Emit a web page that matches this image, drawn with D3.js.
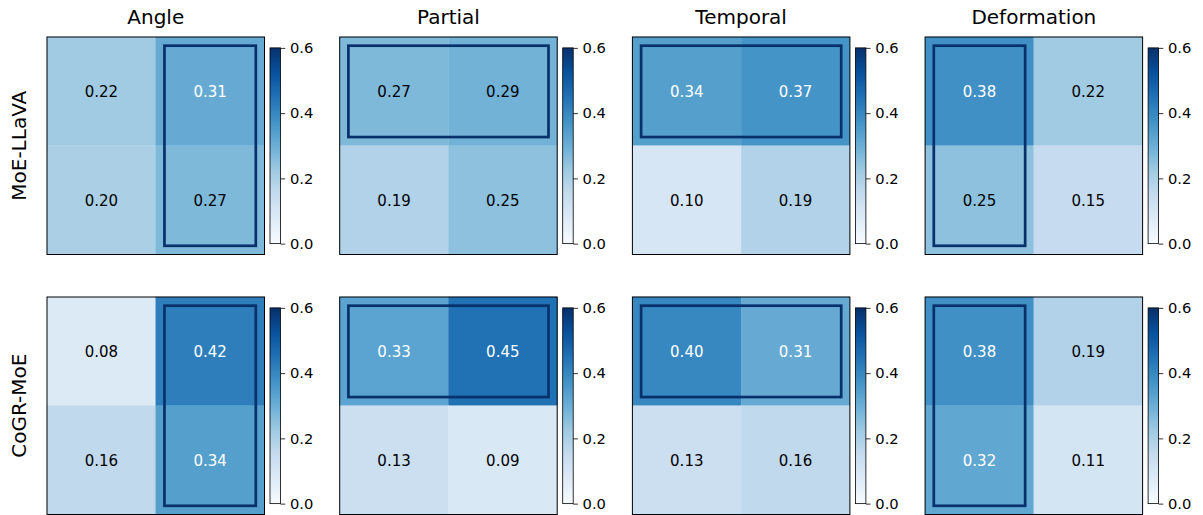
<!DOCTYPE html>
<html>
<head>
<meta charset="utf-8">
<script src="https://cdn.jsdelivr.net/npm/d3@7"></script>
<style>
  html, body { margin: 0; padding: 0; background: #fff; }
  svg { display: block; font-family: "DejaVu Sans", sans-serif; }
</style>
</head>
<body>
<svg id="chart" width="1203" height="515"></svg>
<script>
// ---- data ----
const columns = ["Angle", "Partial", "Temporal", "Deformation"];
const models = ["MoE-LLaVA", "CoGR-MoE"];
// each panel: 2x2 matrix [row][col]
const moeLLaVA = [
  [[0.22, 0.31], [0.20, 0.27]],
  [[0.27, 0.29], [0.19, 0.25]],
  [[0.34, 0.37], [0.10, 0.19]],
  [[0.38, 0.22], [0.25, 0.15]]
];
const cogrMoE = [
  [[0.08, 0.42], [0.16, 0.34]],
  [[0.33, 0.45], [0.13, 0.09]],
  [[0.40, 0.31], [0.13, 0.16]],
  [[0.38, 0.19], [0.32, 0.11]]
];
// highlighted region per column: type and index
const highlightType = ["col", "row", "row", "col"];
const highlightIndex = [1, 0, 0, 0];
const cbTicks = [0.0, 0.2, 0.4, 0.6];
const vmin = 0, vmax = 0.6;

const bluesStops = ["#f7fbff", "#deebf7", "#c6dbef", "#9ecae1", "#6baed6",
                    "#4292c6", "#2171b5", "#08519c", "#08306b"];

// ---- layout ----
const svg = d3.select("#chart");
const panelLeft = 47, panelStep = 292.7;
const panelTops = [37, 297];
const size = 217.5;
const cbPad = 5.5, cbWidth = 10.5, cbShrink = 0.9;

const colorScale = d3.scaleLinear()
  .domain(bluesStops.map((_, i) => vmin + (vmax - vmin) * i / (bluesStops.length - 1)))
  .range(bluesStops)
  .interpolate(d3.interpolateRgb)
  .clamp(true);

// gradient def
const defs = svg.append("defs");
const grad = defs.append("linearGradient").attr("id", "bluesGrad")
  .attr("x1", 0).attr("y1", 1).attr("x2", 0).attr("y2", 0);
bluesStops.forEach((c, i) => {
  grad.append("stop").attr("offset", i / (bluesStops.length - 1)).attr("stop-color", c);
});

const allData = [moeLLaVA, cogrMoE];

allData.forEach((modelData, r) => {
  const top = panelTops[r];
  // row label
  svg.append("text")
    .attr("transform", `translate(25.5,${top + size / 2}) rotate(-90)`)
    .attr("text-anchor", "middle")
    .attr("font-size", 20)
    .attr("fill", "#000")
    .text(models[r]);

  modelData.forEach((mat, c) => {
    const left = panelLeft + c * panelStep;
    const g = svg.append("g").attr("transform", `translate(${left},${top})`);
    const x = d3.scaleBand().domain([0, 1]).range([0, size]).padding(0);
    const y = d3.scaleBand().domain([0, 1]).range([0, size]).padding(0);

    const cells = [];
    mat.forEach((row, i) => row.forEach((v, j) => cells.push({ i, j, v })));

    g.selectAll("rect.cell").data(cells).join("rect")
      .attr("class", "cell")
      .attr("x", d => x(d.j)).attr("y", d => y(d.i))
      .attr("width", x.bandwidth()).attr("height", y.bandwidth())
      .attr("fill", d => colorScale(d.v))
      .attr("stroke", d => colorScale(d.v)).attr("stroke-width", 0.3);

    g.selectAll("text.val").data(cells).join("text")
      .attr("class", "val")
      .attr("x", d => x(d.j) + x.bandwidth() / 2)
      .attr("y", d => y(d.i) + y.bandwidth() / 2)
      .attr("dy", "0.36em")
      .attr("text-anchor", "middle")
      .attr("font-size", 15)
      .attr("fill", d => d.v > 0.3 ? "#fff" : "#000")
      .text(d => d3.format(".2f")(d.v));

    // highlight rectangle
    const inset = 0.08 * x.bandwidth();
    let hx, hy, hw, hh;
    if (highlightType[c] === "col") {
      const k = highlightIndex[c];
      hx = x(k) + inset; hy = inset; hw = x.bandwidth() - 2 * inset; hh = size - 2 * inset;
    } else {
      const k = highlightIndex[c];
      hx = inset; hy = y(k) + inset; hw = size - 2 * inset; hh = y.bandwidth() - 2 * inset;
    }
    g.append("rect")
      .attr("x", hx).attr("y", hy).attr("width", hw).attr("height", hh)
      .attr("fill", "none").attr("stroke", "#08306b").attr("stroke-width", 2.7);

    // frame
    g.append("rect").attr("x", 0).attr("y", 0).attr("width", size).attr("height", size)
      .attr("fill", "none").attr("stroke", "#000").attr("stroke-width", 1);

    // title
    if (r === 0) {
      g.append("text")
        .attr("x", size / 2).attr("y", -13.5)
        .attr("text-anchor", "middle")
        .attr("font-size", 20)
        .attr("fill", "#000")
        .text(columns[c]);
    }

    // colorbar
    const cbH = size * cbShrink;
    const cbTop = (size - cbH) / 2;
    const cb = g.append("g").attr("transform", `translate(${size + cbPad},${cbTop})`);
    cb.append("rect").attr("width", cbWidth).attr("height", cbH)
      .attr("fill", "url(#bluesGrad)");
    cb.append("rect").attr("width", cbWidth).attr("height", cbH)
      .attr("fill", "none").attr("stroke", "#000").attr("stroke-width", 0.8);
    const cbScale = d3.scaleLinear().domain([vmin, vmax]).range([cbH, 0]);
    const axis = d3.axisRight(cbScale).tickValues(cbTicks).tickSize(4.7).tickPadding(4.7)
      .tickFormat(d3.format(".1f"));
    const ag = cb.append("g").attr("transform", `translate(${cbWidth},0)`).call(axis);
    ag.select(".domain").remove();
    ag.selectAll("line").attr("stroke", "#000").attr("stroke-width", 0.8);
    ag.selectAll("text").attr("font-size", 14.7).attr("fill", "#000")
      .attr("font-family", "DejaVu Sans, sans-serif");
  });
});
</script>
</body>
</html>
